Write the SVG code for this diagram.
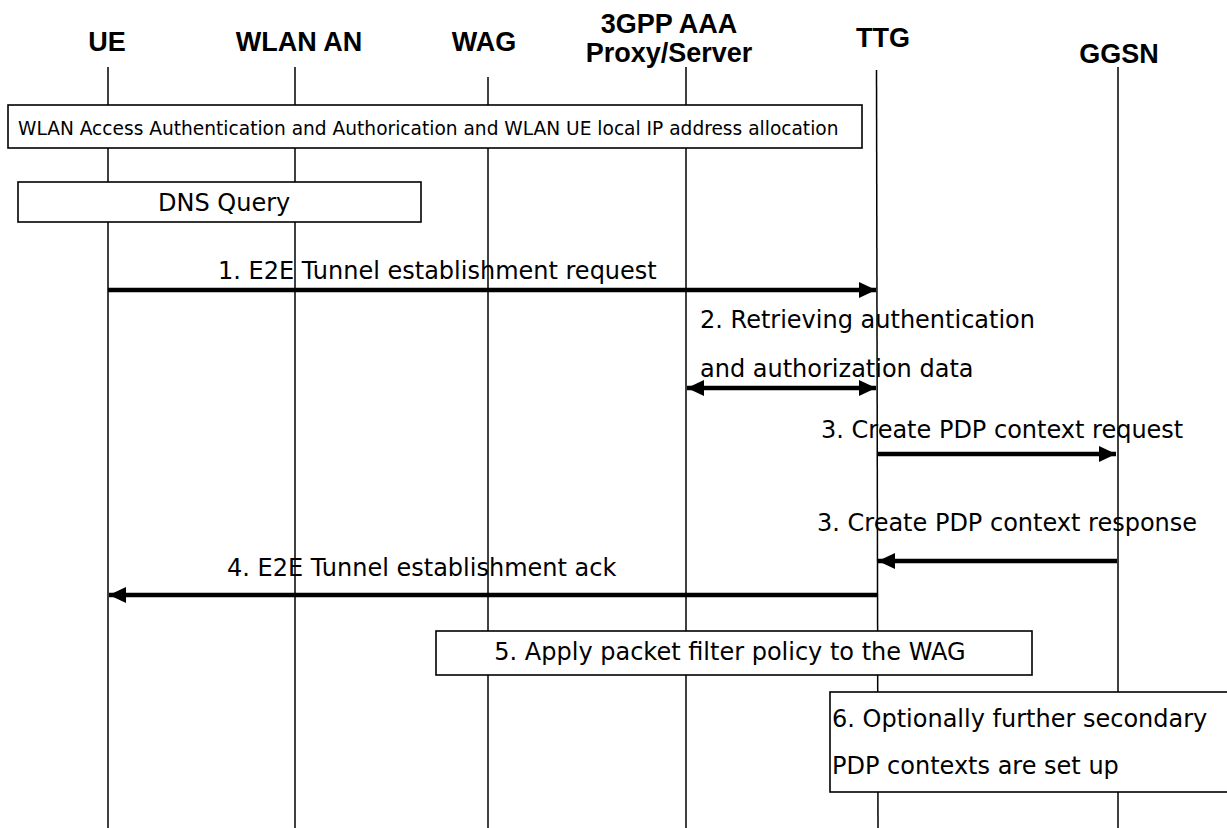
<svg xmlns="http://www.w3.org/2000/svg" width="1227" height="828" viewBox="0 0 1227 828">
<style>
.hdr{font-family:"Liberation Sans",Arial,sans-serif;font-weight:bold;font-size:27px;fill:#000;text-anchor:middle}
.msg{font-family:"DejaVu Sans",Verdana,sans-serif;font-size:24px;fill:#000}
.small{font-family:"DejaVu Sans",Verdana,sans-serif;font-size:18.6px;fill:#000}
.life{stroke:#000;stroke-width:1.5;fill:none}
.box{fill:#fff;stroke:#000;stroke-width:1.6}
.arr{stroke:#000;stroke-width:4.5;fill:none}
</style>
<defs>
<marker id="ah" viewBox="0 0 17 16" refX="17" refY="8" markerWidth="17" markerHeight="16" markerUnits="userSpaceOnUse" orient="auto-start-reverse">
<path d="M0,0 L17,8 L0,16 z" fill="#000"/>
</marker>
</defs>
<rect width="1227" height="828" fill="#fff"/>
<g id="lifelines">
<line class="life" x1="108" y1="67" x2="108" y2="828"/>
<line class="life" x1="295" y1="67" x2="295" y2="828"/>
<line class="life" x1="488" y1="77" x2="488" y2="828"/>
<line class="life" x1="686" y1="67" x2="686" y2="828"/>
<line class="life" x1="876.5" y1="70" x2="878" y2="828"/>
<line class="life" x1="1118" y1="67" x2="1118" y2="828"/>
</g>
<g id="UE"><text class="hdr" x="107" y="51">UE</text></g>
<g id="WLAN_AN"><text class="hdr" x="299" y="51">WLAN AN</text></g>
<g id="WAG"><text class="hdr" x="484" y="51">WAG</text></g>
<g id="AAA"><text class="hdr" x="669" y="33">3GPP AAA</text><text class="hdr" x="669" y="62">Proxy/Server</text></g>
<g id="TTG"><text class="hdr" x="883" y="47">TTG</text></g>
<g id="GGSN"><text class="hdr" x="1119" y="63">GGSN</text></g>
<g id="box_wlan"><rect class="box" x="8" y="105" width="854" height="43"/>
<text class="small" x="18" y="135">WLAN Access Authentication and Authorication and WLAN UE local IP address allocation</text></g>
<g id="box_dns"><rect class="box" x="18" y="182" width="403" height="40"/>
<text class="msg" x="158" y="211">DNS Query</text></g>
<g id="connectors">
<line class="arr" x1="108" y1="290" x2="876" y2="290" marker-end="url(#ah)"/>
<line class="arr" x1="687" y1="388" x2="876" y2="388" marker-start="url(#ah)" marker-end="url(#ah)"/>
<line class="arr" x1="878" y1="454" x2="1116" y2="454" marker-end="url(#ah)"/>
<line class="arr" x1="1117" y1="561" x2="878" y2="561" marker-end="url(#ah)"/>
<line class="arr" x1="877" y1="595" x2="109" y2="595" marker-end="url(#ah)"/>
</g>
<g id="labels">
<text class="msg" x="218" y="279">1. E2E Tunnel establishment request</text>
<text class="msg" x="700" y="328">2. Retrieving authentication</text>
<text class="msg" x="700" y="377">and authorization data</text>
<text class="msg" x="821" y="438">3. Create PDP context request</text>
<text class="msg" x="817" y="531">3. Create PDP context response</text>
<text class="msg" x="227" y="576">4. E2E Tunnel establishment ack</text>
</g>
<g id="box_5"><rect class="box" x="436" y="631" width="596" height="44"/>
<text class="msg" x="730" y="660" text-anchor="middle">5. Apply packet filter policy to the WAG</text></g>
<g id="box_6"><rect class="box" x="830" y="692" width="410" height="100"/>
<text class="msg" x="832" y="727">6. Optionally further secondary</text>
<text class="msg" x="832" y="774">PDP contexts are set up</text></g>
</svg>
